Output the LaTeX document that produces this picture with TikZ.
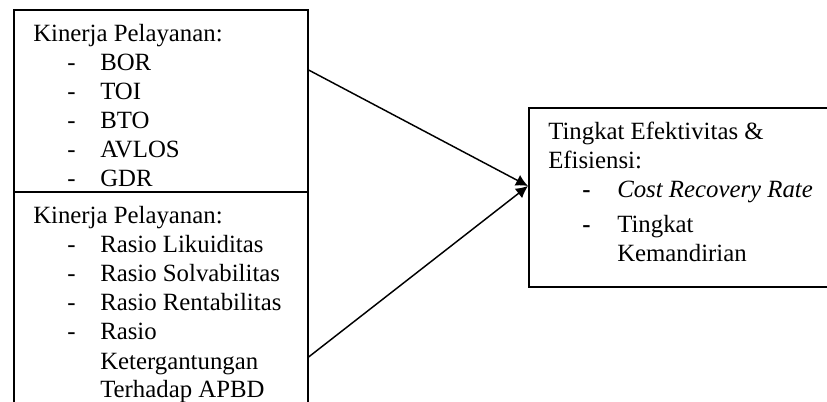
\documentclass[tikz,border=0pt]{standalone}
\usepackage{fontspec}
\setmainfont{Liberation Serif}
\usetikzlibrary{arrows.meta}
\newcommand\itm{\hspace*{25.5pt}\makebox[24.75pt][l]{-}}
\newcommand\itmb{\hspace*{25.5pt}\makebox[26.25pt][l]{\textbf{-}}}
\newcommand\cont{\hspace*{50.25pt}}
\newcommand\contb{\hspace*{51.75pt}}
\begin{document}
\begin{tikzpicture}[x=0.75pt,y=-0.75pt,
  boxn/.style={draw, line width=1.2pt, rectangle, inner sep=0pt, anchor=north west},
  txt/.style={anchor=base west, inner sep=0pt, font=\fontsize{18.6}{21.75}\selectfont},
  conn/.style={line width=1.1pt, -{Latex[length=9pt,width=9pt]}}]
\useasboundingbox (0,0) rectangle (827,402);
\clip (0,0) rectangle (827,402);
\node[boxn, minimum width=220.5pt, minimum height=136.5pt] (b1) at (13,9) {};
\node[boxn, minimum width=220.5pt, minimum height=187.5pt] (b2) at (13,191) {};
\node[boxn, minimum width=240pt, minimum height=134.25pt] (b3) at (528,107) {};
\node[txt] (t1) at (33,42) {\begin{tabular}[t]{@{}l@{}}Kinerja Pelayanan:\\
\itm BOR\\ \itm TOI\\ \itm BTO\\ \itm AVLOS\\ \itm GDR\end{tabular}};
\node[txt] (t2) at (33,224) {\begin{tabular}[t]{@{}l@{}}Kinerja Pelayanan:\\
\itm Rasio Likuiditas\\ \itm Rasio Solvabilitas\\ \itm Rasio Rentabilitas\\ \itm Rasio\\
\cont Ketergantungan\\ \cont Terhadap APBD\end{tabular}};
\node[txt] (t3) at (548,140) {\begin{tabular}[t]{@{}l@{}}Tingkat Efektivitas \&\\
Efisiensi:\\ \itmb\textit{Cost Recovery Rate}\\[4.5pt] \itmb Tingkat\\ \contb Kemandirian\end{tabular}};
\coordinate (y1) at (0,70);
\coordinate (y2) at (0,357);
\coordinate (y3) at (0,186);
\coordinate (s1) at (b1.east |- y1);
\coordinate (s2) at (b2.east |- y2);
\coordinate (e1) at (b3.west |- y3);
\draw[conn] (s1) -- (e1);
\draw[conn] (s2) -- (e1);
\end{tikzpicture}
\end{document}
